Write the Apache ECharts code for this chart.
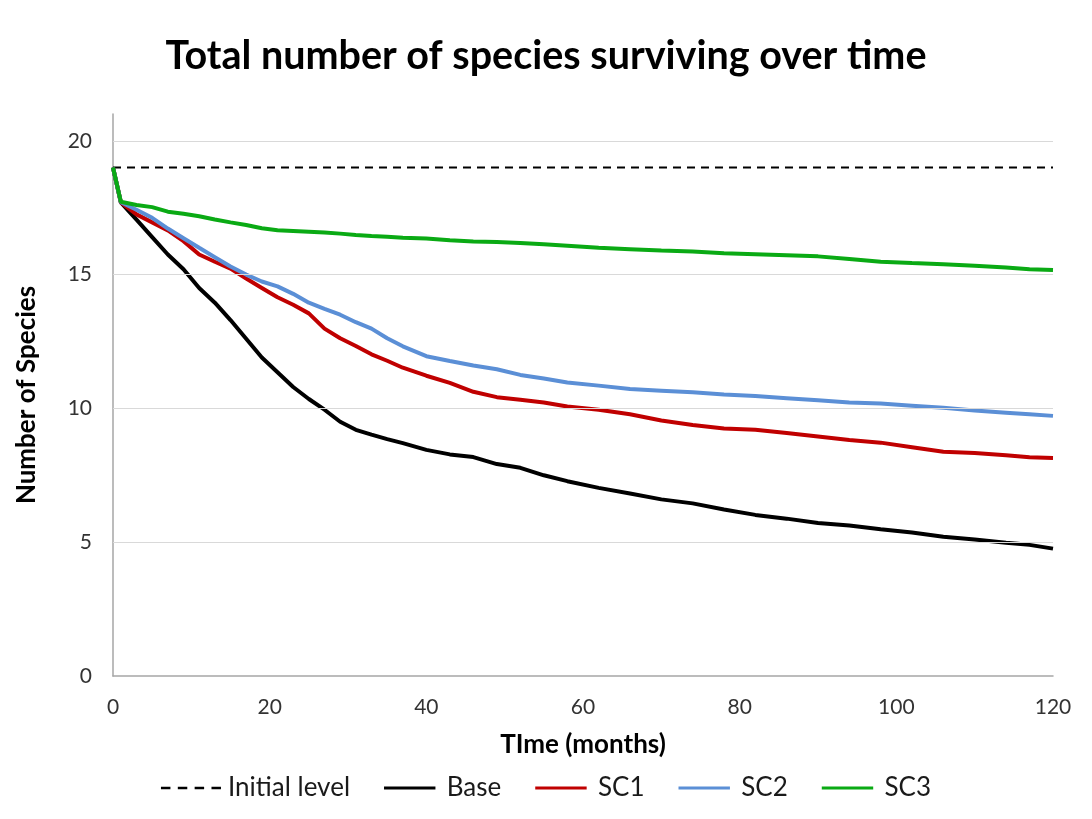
<!DOCTYPE html>
<html>
<head>
<meta charset="utf-8">
<script src="https://cdn.jsdelivr.net/npm/echarts@6/dist/echarts.min.js"></script>
<style>
html,body{margin:0;padding:0;background:#fff;}
#chart{width:1092px;height:819px;}
</style>
</head>
<body>
<div id="chart"></div>
<script>
var months = [0,1,3,5,7,9,11,13,15,17,19,21,23,25,27,29,31,33,35,37,40,43,46,49,52,55,58,62,66,70,74,78,82,86,90,94,98,102,106,110,114,117,120];
var initialLevel = 19;
var baseValues = [19,17.7,17.05,16.4,15.75,15.2,14.5,13.95,13.3,12.6,11.9,11.35,10.8,10.35,9.95,9.5,9.2,9.02,8.85,8.7,8.45,8.28,8.18,7.92,7.78,7.5,7.28,7.03,6.82,6.6,6.45,6.22,6.02,5.88,5.72,5.62,5.48,5.36,5.2,5.1,4.98,4.9,4.76];
var sc1Values = [19,17.7,17.25,16.95,16.65,16.25,15.75,15.48,15.22,14.85,14.5,14.15,13.87,13.55,12.98,12.62,12.33,12.02,11.78,11.52,11.22,10.95,10.62,10.42,10.32,10.22,10.07,9.95,9.78,9.55,9.38,9.25,9.2,9.08,8.95,8.82,8.72,8.55,8.38,8.33,8.25,8.17,8.15];
var sc2Values = [19,17.7,17.42,17.12,16.72,16.36,16.0,15.65,15.3,15.0,14.74,14.56,14.28,13.95,13.72,13.5,13.22,12.98,12.62,12.32,11.95,11.77,11.6,11.46,11.25,11.12,10.97,10.85,10.72,10.66,10.6,10.52,10.46,10.38,10.3,10.22,10.18,10.1,10.02,9.92,9.84,9.78,9.72];
var sc3Values = [19,17.72,17.6,17.52,17.35,17.27,17.18,17.06,16.95,16.85,16.73,16.66,16.63,16.6,16.57,16.53,16.48,16.44,16.41,16.38,16.35,16.28,16.24,16.22,16.18,16.13,16.08,16.0,15.95,15.9,15.86,15.8,15.76,15.72,15.68,15.58,15.48,15.43,15.39,15.33,15.26,15.2,15.17];
var yTicks = [5,10,15,20];
var seriesNames = ['Initial level','Base','SC1','SC2','SC3'];

function pairs(vals){ return months.map(function(m,i){ return [m, vals[i]]; }); }

var FONT = 'Lato, "Open Sans", sans-serif';
var solidIcon = 'path://M0,0L60,0L60,3.5L0,3.5Z';
var dashIcon = 'path://M0,0L9,0L9,2.5L0,2.5Z M16,0L25,0L25,2.5L16,2.5Z M32,0L41,0L41,2.5L32,2.5Z M48,0L57,0L57,2.5L48,2.5Z';
var chart = echarts.init(document.getElementById('chart'), null, {renderer:'canvas'});
var lineBase = {type:'line', showSymbol:false, symbol:'none', z:3};
chart.setOption({
  animation:false,
  backgroundColor:'#ffffff',
  title:{
    text:'Total number of species surviving over time',
    left:'center', top:31,
    textStyle:{fontFamily:FONT, fontSize:39.5, fontWeight:'bold', color:'#000'}
  },
  legend:{
    top:770, left:'center',
    itemWidth:60, itemHeight:3, itemGap:34,
    textStyle:{fontFamily:FONT, fontSize:26, color:'#1a1a1a', padding:[0,0,0,2]},
    data:seriesNames.map(function(n,i){ return {name:n, icon: i===0 ? dashIcon : solidIcon}; })
  },
  grid:{left:113, right:39, top:114, bottom:143},
  xAxis:{
    type:'value', min:0, max:120, interval:20,
    name:'TIme (months)', nameLocation:'middle', nameGap:56,
    nameTextStyle:{fontFamily:FONT, fontSize:26, fontWeight:'bold', color:'#000'},
    axisLine:{show:true, lineStyle:{color:'#a6a6a6', width:1.5}},
    axisTick:{show:false},
    axisLabel:{fontFamily:FONT, fontSize:21, color:'#333', margin:21},
    splitLine:{show:false}
  },
  yAxis:{
    type:'value', min:0, max:21, interval:5,
    name:'Number of Species', nameLocation:'middle', nameGap:73,
    nameTextStyle:{fontFamily:FONT, fontSize:26, fontWeight:'bold', color:'#000'},
    axisLine:{show:true, lineStyle:{color:'#a6a6a6', width:1.5}},
    axisTick:{show:false},
    axisLabel:{fontFamily:FONT, fontSize:21, color:'#333', margin:21,
      formatter:function(v){ return (v % 5 === 0) ? String(v) : ''; }},
    splitLine:{show:false}
  },
  series:[
    {name:'gridlines', type:'line', data:[], z:1, silent:true,
      markLine:{silent:true, symbol:'none', label:{show:false},
        lineStyle:{color:'#d9d9d9', width:1, type:'solid'},
        data: yTicks.map(function(t){ return {yAxis:t}; })}},
    Object.assign({}, lineBase, {name:seriesNames[0], data:[[0,initialLevel],[120,initialLevel]],
      lineStyle:{color:'#000', width:2, type:[8,6]}, itemStyle:{color:'#000'}}),
    Object.assign({}, lineBase, {name:seriesNames[1], data:pairs(baseValues),
      lineStyle:{color:'#000000', width:4}, itemStyle:{color:'#000000'}}),
    Object.assign({}, lineBase, {name:seriesNames[2], data:pairs(sc1Values),
      lineStyle:{color:'#c00000', width:4}, itemStyle:{color:'#c00000'}}),
    Object.assign({}, lineBase, {name:seriesNames[3], data:pairs(sc2Values),
      lineStyle:{color:'#5b8fd6', width:4}, itemStyle:{color:'#5b8fd6'}}),
    Object.assign({}, lineBase, {name:seriesNames[4], data:pairs(sc3Values),
      lineStyle:{color:'#0aaa14', width:4}, itemStyle:{color:'#0aaa14'}})
  ]
});
</script>
</body>
</html>
